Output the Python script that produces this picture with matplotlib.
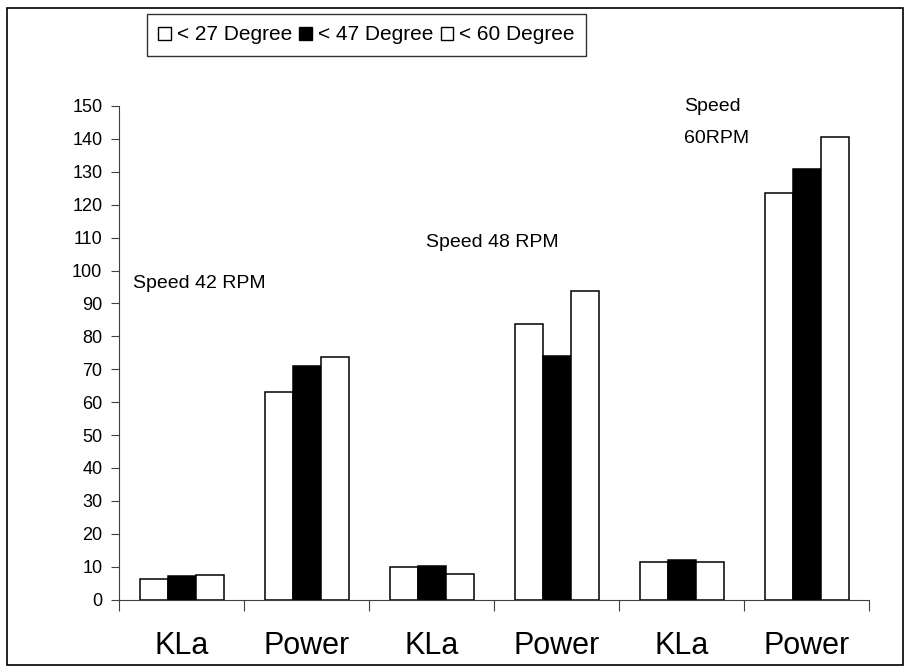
import matplotlib.pyplot as plt
import matplotlib.patches as mpatches
import numpy as np

plt.rcParams['font.family'] = ['Liberation Sans', 'DejaVu Sans']

# data
categories = ["KLa", "Power", "KLa", "Power", "KLa", "Power"]
series_names = ["< 27 Degree", "< 47 Degree", "< 60 Degree"]
deg27 = [6.2, 63.0, 9.8, 83.6, 11.4, 123.5]
deg47 = [7.0, 71.1, 10.3, 73.9, 12.1, 130.9]
deg60 = [7.5, 73.8, 7.9, 93.9, 11.4, 140.7]
fills = ["white", "black", "white"]

fig = plt.figure(figsize=(9.09, 6.72), dpi=100)
ax = fig.add_axes([119 / 909, 1 - 599.5 / 672, 750 / 909, (599.5 - 106) / 672])

# outer chart border
fig.patches.append(mpatches.Rectangle((7 / 909, 1 - 665 / 672), 896 / 909, 657 / 672,
                                      transform=fig.transFigure, fill=False,
                                      edgecolor="black", linewidth=1.2))

x = np.arange(len(categories))
w = 0.224
for i, (vals, fc) in enumerate(zip([deg27, deg47, deg60], fills)):
    ax.bar(x + (i - 1) * w, vals, width=w, color=fc, edgecolor="black",
           linewidth=1.1, label=series_names[i])

ax.set_xlim(-0.5, len(categories) - 0.5)
ax.set_ylim(0, 150)
ax.set_yticks(range(0, 151, 10))
ax.tick_params(axis="y", labelsize=13, length=6, color="#404040", pad=6)

# category ticks at the group boundaries, labels in the middle
ax.set_xticks(np.arange(-0.5, len(categories), 1.0))
ax.set_xticklabels([])
ax.tick_params(axis="x", length=8, color="#404040")
ax.set_xticks(x, minor=True)
ax.set_xticklabels(categories, minor=True, fontsize=22)
ax.tick_params(axis="x", which="minor", length=0, pad=23)

for s in ["top", "right"]:
    ax.spines[s].set_visible(False)
for s in ["left", "bottom"]:
    ax.spines[s].set_color("#404040")

ax.text(-0.39, 96.2, "Speed 42 RPM", fontsize=14, va="center")
ax.text(1.956, 108.4, "Speed 48 RPM", fontsize=14, va="center")
ax.text(4.02, 149.7, "Speed", fontsize=14, va="center")
ax.text(4.02, 140.0, "60RPM", fontsize=14, va="center")

handles = [mpatches.Patch(facecolor=fc, edgecolor="black", linewidth=1.0) for fc in fills]
leg = fig.legend(handles, series_names, loc="center", ncol=3,
                 bbox_to_anchor=(366.5 / 909, 1 - 35 / 672), fontsize=15,
                 frameon=True, fancybox=False, edgecolor="black",
                 handlelength=0.6, handleheight=0.6, handletextpad=0.3,
                 columnspacing=0.35, borderpad=0.55)
leg.get_frame().set_linewidth(1.0)

fig.savefig("out.png", dpi=100)
